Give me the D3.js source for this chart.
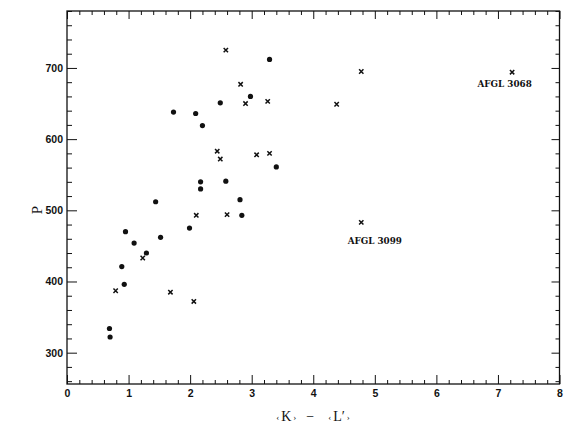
<!DOCTYPE html>
<html><head><meta charset="utf-8">
<script src="https://cdn.jsdelivr.net/npm/d3@7"></script>
<style>
body{margin:0;background:#fff;}
svg{display:block;}
.tick text{font-family:"Liberation Sans",Arial,sans-serif;font-weight:bold;font-size:10.5px;fill:#111;}
</style></head>
<body>
<script>
// Filled circles: [K-L', P]
const circleX = [3.29,2.98,2.49,1.73,2.09,2.20,3.40,2.17,2.17,2.58,2.81,2.84,1.44,0.95,1.52,1.99,1.09,1.29,0.89,0.93,0.69,0.70];
const circleP = [712,660,651,638,636,619,561,540,530,541,515,493,512,470,462,475,454,440,421,396,334,322];
// Crosses
const crossX = [2.58,2.82,2.90,3.26,4.38,4.78,7.23,2.44,2.49,3.08,3.29,2.10,2.60,4.78,1.23,0.79,1.68,2.06];
const crossP = [725,677,650,653,649,695,694,583,572,578,580,493,494,483,433,387,385,372];
// Annotations
const labelText = ["AFGL 3068","AFGL 3099"];
const labelX = [7.11,5.0];
const labelP = [673,453];
const xMajor = [0,1,2,3,4,5,6,7,8];
const yMajor = [300,400,500,600,700];

const W=570,H=432;
const svg=d3.select("body").append("svg").attr("width",W).attr("height",H);
const x=d3.scaleLinear().domain([0,8]).range([67,559.5]);
const y=d3.scaleLinear().domain([256,780]).range([384,11]);

const xMinor=d3.range(0,8.0001,0.2).map(v=>+v.toFixed(1)).filter(v=>Math.abs(v-Math.round(v))>1e-6);
const yMinor=d3.range(260,781,20).filter(v=>v%100!==0);

function styleAxis(g){g.select(".domain").remove();g.selectAll("line").attr("stroke","#111").attr("stroke-width",1);}

// frame
svg.append("rect").attr("x",x(0)).attr("y",y(780)).attr("width",x(8)-x(0)).attr("height",y(256)-y(780))
  .attr("fill","none").attr("stroke","#111").attr("stroke-width",1.3);

// bottom
svg.append("g").attr("transform",`translate(0,${y(256)})`).call(d3.axisBottom(x).tickValues(xMinor).tickSize(-4).tickFormat("")).call(styleAxis);
svg.append("g").attr("transform",`translate(0,${y(256)})`).call(d3.axisBottom(x).tickValues(xMajor).tickSize(-9).tickPadding(6).tickFormat(d3.format("d"))).call(styleAxis);
// top
svg.append("g").attr("transform",`translate(0,${y(780)})`).call(d3.axisTop(x).tickValues(xMinor).tickSize(-4).tickFormat("")).call(styleAxis);
svg.append("g").attr("transform",`translate(0,${y(780)})`).call(d3.axisTop(x).tickValues(xMajor).tickSize(-8).tickFormat("")).call(styleAxis);
// left
svg.append("g").attr("transform",`translate(${x(0)},0)`).call(d3.axisLeft(y).tickValues(yMinor).tickSize(-5).tickFormat("")).call(styleAxis);
svg.append("g").attr("transform",`translate(${x(0)},0)`).call(d3.axisLeft(y).tickValues(yMajor).tickSize(-10).tickPadding(4).tickFormat(d3.format("d"))).call(styleAxis);
// right
svg.append("g").attr("transform",`translate(${x(8)},0)`).call(d3.axisRight(y).tickValues(yMinor).tickSize(-4).tickFormat("")).call(styleAxis);
svg.append("g").attr("transform",`translate(${x(8)},0)`).call(d3.axisRight(y).tickValues(yMajor).tickSize(-8).tickFormat("")).call(styleAxis);

// circles
svg.append("g").selectAll("circle").data(circleX).join("circle")
  .attr("cx",(d,i)=>x(d)).attr("cy",(d,i)=>y(circleP[i])).attr("r",2.6).attr("fill","#111");
// crosses
const cross=d3.symbol().type(d3.symbolX).size(14);
svg.append("g").selectAll("path").data(crossX).join("path")
  .attr("transform",(d,i)=>`translate(${x(d)},${y(crossP[i])})`).attr("d",cross)
  .attr("fill","none").attr("stroke","#111").attr("stroke-width",1.5);
// labels
svg.append("g").selectAll("text").data(labelText).join("text")
  .attr("x",(d,i)=>x(labelX[i])).attr("y",(d,i)=>y(labelP[i])).attr("text-anchor","middle")
  .attr("font-family","'DejaVu Serif',serif").attr("font-weight","bold").attr("font-size",8.8).attr("fill","#111")
  .text(d=>d);

// axis titles
const xt=svg.append("text").attr("x",313).attr("y",421).attr("text-anchor","middle")
  .attr("font-family","'Liberation Serif',serif").attr("font-size",14).attr("fill","#111");
xt.append("tspan").attr("font-size",9).attr("dy",-1).text("‹");
xt.append("tspan").attr("dy",1).attr("dx",2).text("K");
xt.append("tspan").attr("font-size",9).attr("dy",-1).attr("dx",2).text("›");
xt.append("tspan").attr("dy",1).attr("dx",10).text("−");
xt.append("tspan").attr("font-size",9).attr("dy",-1).attr("dx",14).text("‹");
xt.append("tspan").attr("dy",1).attr("dx",2).text("L′");
xt.append("tspan").attr("font-size",9).attr("dy",-1).attr("dx",2).text("›");
svg.append("text").attr("transform","translate(42,210) rotate(-90)").attr("text-anchor","middle")
  .attr("font-family","'Liberation Serif',serif").attr("font-size",15).attr("fill","#111").text("P");
</script>
</body></html>
